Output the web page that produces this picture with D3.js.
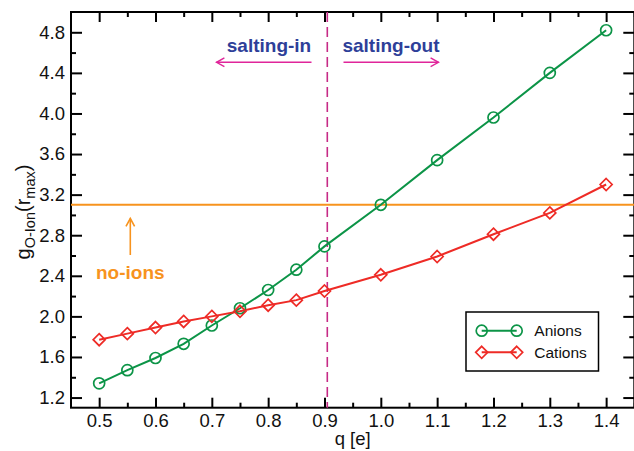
<!DOCTYPE html>
<html>
<head>
<meta charset="utf-8">
<script src="https://cdn.jsdelivr.net/npm/d3@7"></script>
<style>
  html, body { margin: 0; padding: 0; background: #fff; }
  svg { display: block; font-family: "Liberation Sans", Arial, sans-serif; }
</style>
</head>
<body>
<svg id="chart" width="634" height="451"></svg>
<script>
// Charge values q [e]
const charges = [0.5, 0.55, 0.6, 0.65, 0.7, 0.75, 0.8, 0.85, 0.9, 1.0, 1.1, 1.2, 1.3, 1.4];
// g_O-Ion(r_max) for each series
const anions  = [1.34, 1.47, 1.59, 1.73, 1.91, 2.08, 2.26, 2.46, 2.69, 3.10, 3.54, 3.96, 4.40, 4.82];
const cations = [1.77, 1.83, 1.89, 1.95, 2.00, 2.05, 2.11, 2.16, 2.25, 2.41, 2.59, 2.81, 3.02, 3.30];
// Reference level without ions, and salting-in / salting-out boundary
const noIonsLevel = [3.10];
const boundaryQ = [0.905];
// Tick values
const xMajorTicks = [0.5, 0.6, 0.7, 0.8, 0.9, 1.0, 1.1, 1.2, 1.3, 1.4];
const xMinorTicks = [0.55, 0.65, 0.75, 0.85, 0.95, 1.05, 1.15, 1.25, 1.35, 1.45];
const yMajorTicks = [1.2, 1.6, 2.0, 2.4, 2.8, 3.2, 3.6, 4.0, 4.4, 4.8];
const yMinorTicks = [1.4, 1.8, 2.2, 2.6, 3.0, 3.4, 3.8, 4.2, 4.6];
const seriesNames = ["Anions", "Cations"];

const GREEN = "#0c9447", RED = "#ee2b26", ORANGE = "#f7931e", BLUE = "#2e3f99", MAGENTA = "#e0259a", DASH = "#c62a86";

const svg = d3.select("#chart");
const L = 71, R = 634.3, T = 12, B = 407.7;
const x = d3.scaleLinear().domain([0.45, 1.45]).range([L, R]);
const y = d3.scaleLinear().domain([1.1, 5.0]).range([B, T]);

// Axes with inward ticks
const fmt = d3.format(".1f");
function axisGroup(axisFn, tr, ticks, size, labels) {
  const a = axisFn.tickValues(ticks).tickSize(size).tickPadding(6)
    .tickFormat(labels ? fmt : () => "");
  const g = svg.append("g").attr("transform", tr).call(a);
  g.select(".domain").remove();
  g.selectAll(".tick line").attr("stroke", "#000").attr("stroke-width", 2);
  g.selectAll(".tick text").attr("font-size", 18.5).attr("fill", "#111")
    .attr("font-family", "'Liberation Sans', Arial, sans-serif");
  return g;
}
axisGroup(d3.axisBottom(x), `translate(0,${B})`, xMajorTicks, -10, true);
axisGroup(d3.axisBottom(x), `translate(0,${B})`, xMinorTicks, -5, false);
axisGroup(d3.axisTop(x), `translate(0,${T})`, xMajorTicks, -10, false);
axisGroup(d3.axisTop(x), `translate(0,${T})`, xMinorTicks, -5, false);
axisGroup(d3.axisLeft(y), `translate(${L},0)`, yMajorTicks, -11, true);
axisGroup(d3.axisLeft(y), `translate(${L},0)`, yMinorTicks, -5, false);
axisGroup(d3.axisRight(y), `translate(${R},0)`, yMajorTicks, -11, false);
axisGroup(d3.axisRight(y), `translate(${R},0)`, yMinorTicks, -5, false);

// Frame
svg.append("rect").attr("x", L).attr("y", T).attr("width", R - L).attr("height", B - T)
  .attr("fill", "none").attr("stroke", "#000").attr("stroke-width", 2);

// No-ions reference line
svg.selectAll(".noions").data(noIonsLevel).join("line")
  .attr("x1", L).attr("x2", R).attr("y1", d => y(d)).attr("y2", d => y(d))
  .attr("stroke", ORANGE).attr("stroke-width", 2);

// Salting boundary
svg.selectAll(".boundary").data(boundaryQ).join("line")
  .attr("x1", d => x(d)).attr("x2", d => x(d)).attr("y1", T).attr("y2", B)
  .attr("stroke", DASH).attr("stroke-width", 1.6).attr("stroke-dasharray", "10,5");

// Series
const line = d3.line().x(d => x(d[0])).y(d => y(d[1]));
const anionPts = charges.map((q, i) => [q, anions[i]]);
const cationPts = charges.map((q, i) => [q, cations[i]]);

svg.append("path").datum(anionPts).attr("d", line).attr("fill", "none")
  .attr("stroke", GREEN).attr("stroke-width", 2);
svg.append("path").datum(cationPts).attr("d", line).attr("fill", "none")
  .attr("stroke", RED).attr("stroke-width", 2);

function circleMarker(sel) {
  sel.attr("r", 5.5).attr("fill", "#fff").attr("fill-opacity", 0)
    .attr("stroke", GREEN).attr("stroke-width", 1.7);
}
const diamondPath = "M0,-6L6,0L0,6L-6,0Z";
function diamondMarker(sel) {
  sel.attr("d", diamondPath).attr("fill", "none")
    .attr("stroke", RED).attr("stroke-width", 1.7);
}
svg.selectAll(".anion").data(anionPts).join("circle")
  .attr("cx", d => x(d[0])).attr("cy", d => y(d[1])).call(circleMarker);
svg.selectAll(".cation").data(cationPts).join("path")
  .attr("transform", d => `translate(${x(d[0])},${y(d[1])})`).call(diamondMarker);

// Open arrowhead helper
function arrow(x1, y1, x2, y2, color, w) {
  const g = svg.append("g").attr("stroke", color).attr("stroke-width", w).attr("fill", "none");
  g.append("line").attr("x1", x1).attr("y1", y1).attr("x2", x2).attr("y2", y2);
  const ang = Math.atan2(y2 - y1, x2 - x1), len = 9, spread = 0.5;
  const p = (a) => [x2 - len * Math.cos(ang - a), y2 - len * Math.sin(ang - a)];
  const a1 = p(spread), a2 = p(-spread);
  g.append("path").attr("d", `M${a1[0]},${a1[1]}L${x2},${y2}L${a2[0]},${a2[1]}`);
}

// Salting annotations
svg.append("text").attr("x", 269).attr("y", 52).attr("text-anchor", "middle")
  .attr("font-size", 19).attr("font-weight", "bold").attr("fill", BLUE).text("salting-in");
svg.append("text").attr("x", 391).attr("y", 52).attr("text-anchor", "middle")
  .attr("font-size", 19).attr("font-weight", "bold").attr("fill", BLUE).text("salting-out");
arrow(311.5, 62.3, 216.5, 62.3, MAGENTA, 1.4);
arrow(343.5, 62.3, 438.5, 62.3, MAGENTA, 1.4);

// No-ions annotation
arrow(130.3, 255, 130.3, 218.5, ORANGE, 1.6);
svg.append("text").attr("x", 130.3).attr("y", 279).attr("text-anchor", "middle")
  .attr("font-size", 19).attr("font-weight", "bold").attr("fill", ORANGE).text("no-ions");

// Legend
const lg = svg.append("g");
lg.append("rect").attr("x", 466).attr("y", 312).attr("width", 132.5).attr("height", 59)
  .attr("fill", "#fff").attr("stroke", "#000").attr("stroke-width", 1.5);
const rows = [330.7, 352.3];
[GREEN, RED].forEach((c, i) => {
  lg.append("line").attr("x1", 481.7).attr("x2", 516.7).attr("y1", rows[i]).attr("y2", rows[i])
    .attr("stroke", c).attr("stroke-width", 2);
  [481.7, 516.7].forEach(cx => {
    if (i === 0) lg.append("circle").attr("cx", cx).attr("cy", rows[i]).call(circleMarker);
    else lg.append("path").attr("transform", `translate(${cx},${rows[i]})`).call(diamondMarker);
  });
  lg.append("text").attr("x", 534.3).attr("y", rows[i] + 5.5).attr("font-size", 15.5)
    .attr("fill", "#111").text(seriesNames[i]);
});

// Axis titles
svg.append("text").attr("x", (L + R) / 2).attr("y", 445).attr("text-anchor", "middle")
  .attr("font-size", 18.5).attr("fill", "#111").text("q [e]");

const yt = svg.append("text").attr("transform", "translate(30,212) rotate(-90)")
  .attr("text-anchor", "middle").attr("font-size", 20).attr("fill", "#111");
yt.append("tspan").text("g");
yt.append("tspan").attr("dy", 5).attr("font-size", 14.5).text("O-Ion");
yt.append("tspan").attr("dy", -5).text("(r");
yt.append("tspan").attr("dy", 5).attr("font-size", 14.5).text("max");
yt.append("tspan").attr("dy", -5).text(")");
</script>
</body>
</html>
